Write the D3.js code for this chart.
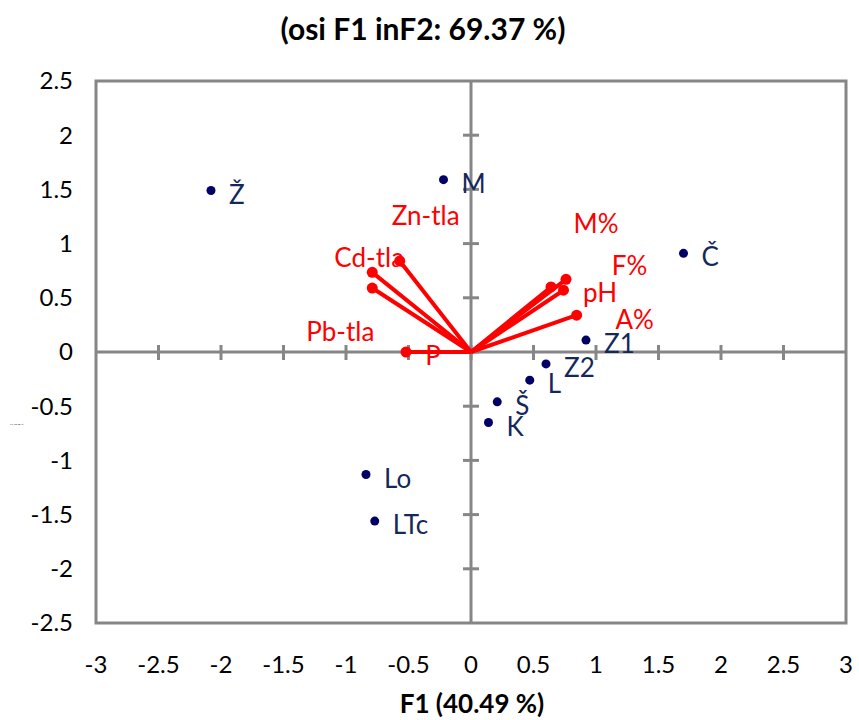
<!DOCTYPE html>
<html>
<head>
<meta charset="utf-8">
<script src="https://cdn.jsdelivr.net/npm/d3@7"></script>
<style>
  body { margin: 0; background: #fff; }
  text { font-family: Lato, "Open Sans", sans-serif; }
</style>
</head>
<body>
<div id="chart"></div>
<script>
// observations (blue points)
var obsNames = ["Ž", "M", "Č", "Z1", "Z2", "L", "Š", "K", "Lo", "LTc"];
var obsF1 = [-2.08, -0.22, 1.70, 0.92, 0.60, 0.47, 0.21, 0.14, -0.84, -0.77];
var obsF2 = [1.49, 1.59, 0.91, 0.11, -0.11, -0.26, -0.46, -0.65, -1.13, -1.56];

// variables (red vectors)
var varNames = ["Zn-tla", "Cd-tla", "Pb-tla", "P", "M%", "F%", "pH", "A%"];
var varF1 = [-0.57, -0.79, -0.79, -0.52, 0.76, 0.74, 0.64, 0.845];
var varF2 = [0.84, 0.735, 0.59, 0.0, 0.67, 0.57, 0.60, 0.34];

var ticks = [-3, -2.5, -2, -1.5, -1, -0.5, 0, 0.5, 1, 1.5, 2, 2.5, 3];
var yTicks = [-2.5, -2, -1.5, -1, -0.5, 0, 0.5, 1, 1.5, 2, 2.5];

// label offsets in pixels (where excel put the red labels)
var varLabelOffset = {
  "Zn-tla": [26, -45], "Cd-tla": [-3, -14], "Pb-tla": [-32, 44], "P": [27, 4],
  "M%": [30, -55], "F%": [66, -24], "pH": [49, 6], "A%": [58, 5]
};

var width = 859, height = 720;
var margin = {top: 81, right: 13, bottom: 97, left: 96};

var svg = d3.select("#chart").append("svg")
  .attr("width", width)
  .attr("height", height);

var x = d3.scaleLinear().domain([-3, 3]).range([margin.left, width - margin.right]);
var y = d3.scaleLinear().domain([-2.5, 2.5]).range([height - margin.bottom, margin.top]);

var grey = "#868686";

// frame
svg.append("rect")
  .attr("x", x(-3)).attr("y", y(2.5))
  .attr("width", x(3) - x(-3)).attr("height", y(-2.5) - y(2.5))
  .attr("fill", "none").attr("stroke", grey).attr("stroke-width", 3);

// zero axes with crossing ticks
svg.append("line")
  .attr("x1", x(-3)).attr("x2", x(3)).attr("y1", y(0)).attr("y2", y(0))
  .attr("stroke", grey).attr("stroke-width", 3);
svg.append("line")
  .attr("x1", x(0)).attr("x2", x(0)).attr("y1", y(2.5)).attr("y2", y(-2.5))
  .attr("stroke", grey).attr("stroke-width", 3);

svg.selectAll(".xtick").data(ticks.slice(1, -1)).enter().append("line")
  .attr("x1", function(d) { return x(d); }).attr("x2", function(d) { return x(d); })
  .attr("y1", y(0) - 7).attr("y2", y(0) + 8)
  .attr("stroke", grey).attr("stroke-width", 3);
svg.selectAll(".ytick").data(yTicks.slice(1, -1)).enter().append("line")
  .attr("x1", x(0) - 8).attr("x2", x(0) + 8)
  .attr("y1", function(d) { return y(d); }).attr("y2", function(d) { return y(d); })
  .attr("stroke", grey).attr("stroke-width", 3);

// tick labels
svg.selectAll(".xlab").data(ticks).enter().append("text")
  .attr("x", function(d) { return x(d); })
  .attr("y", y(-2.5) + 50)
  .attr("text-anchor", "middle")
  .attr("font-size", 24)
  .text(function(d) { return d; });
svg.selectAll(".ylab").data(yTicks).enter().append("text")
  .attr("x", 73)
  .attr("y", function(d) { return y(d); })
  .attr("dy", "0.35em")
  .attr("text-anchor", "end")
  .attr("font-size", 24)
  .text(function(d) { return d; });

// titles
svg.append("text")
  .attr("x", 423).attr("y", 40)
  .attr("text-anchor", "middle")
  .attr("font-size", 30).attr("font-weight", "bold")
  .text("(osi F1 inF2: 69.37 %)");
svg.append("text")
  .attr("x", 472).attr("y", 713)
  .attr("text-anchor", "middle")
  .attr("font-size", 26).attr("font-weight", "bold")
  .text("F1 (40.49 %)");
svg.append("text")
  .attr("x", 10).attr("y", 425)
  .attr("font-size", 2.5).attr("fill", "#444")
  .text("F2 (28.88 %)");

// red vectors
var vars = varNames.map(function(n, i) { return {name: n, f1: varF1[i], f2: varF2[i]}; });
svg.selectAll(".vec").data(vars).enter().append("line")
  .attr("x1", x(0)).attr("y1", y(0))
  .attr("x2", function(d) { return x(d.f1); })
  .attr("y2", function(d) { return y(d.f2); })
  .attr("stroke", "#ff0000").attr("stroke-width", 4);
svg.selectAll(".vecdot").data(vars).enter().append("circle")
  .attr("cx", function(d) { return x(d.f1); })
  .attr("cy", function(d) { return y(d.f2); })
  .attr("r", 5.5)
  .attr("fill", "#ff0000");
svg.selectAll(".veclab").data(vars).enter().append("text")
  .attr("x", function(d) { return x(d.f1) + varLabelOffset[d.name][0]; })
  .attr("y", function(d) { return y(d.f2) + varLabelOffset[d.name][1]; })
  .attr("dy", "0.35em")
  .attr("text-anchor", "middle")
  .attr("font-size", 26)
  .attr("fill", "#ff0000")
  .text(function(d) { return d.name; });

// blue observations
var obs = obsNames.map(function(n, i) { return {name: n, f1: obsF1[i], f2: obsF2[i]}; });
svg.selectAll(".obs").data(obs).enter().append("circle")
  .attr("cx", function(d) { return x(d.f1); })
  .attr("cy", function(d) { return y(d.f2); })
  .attr("r", 4.5)
  .attr("fill", "#000066");
svg.selectAll(".obslab").data(obs).enter().append("text")
  .attr("x", function(d) { return x(d.f1) + 18; })
  .attr("y", function(d) { return y(d.f2) + 4; })
  .attr("dy", "0.35em")
  .attr("font-size", 26)
  .attr("fill", "#14285a")
  .text(function(d) { return d.name; });
</script>
</body>
</html>
